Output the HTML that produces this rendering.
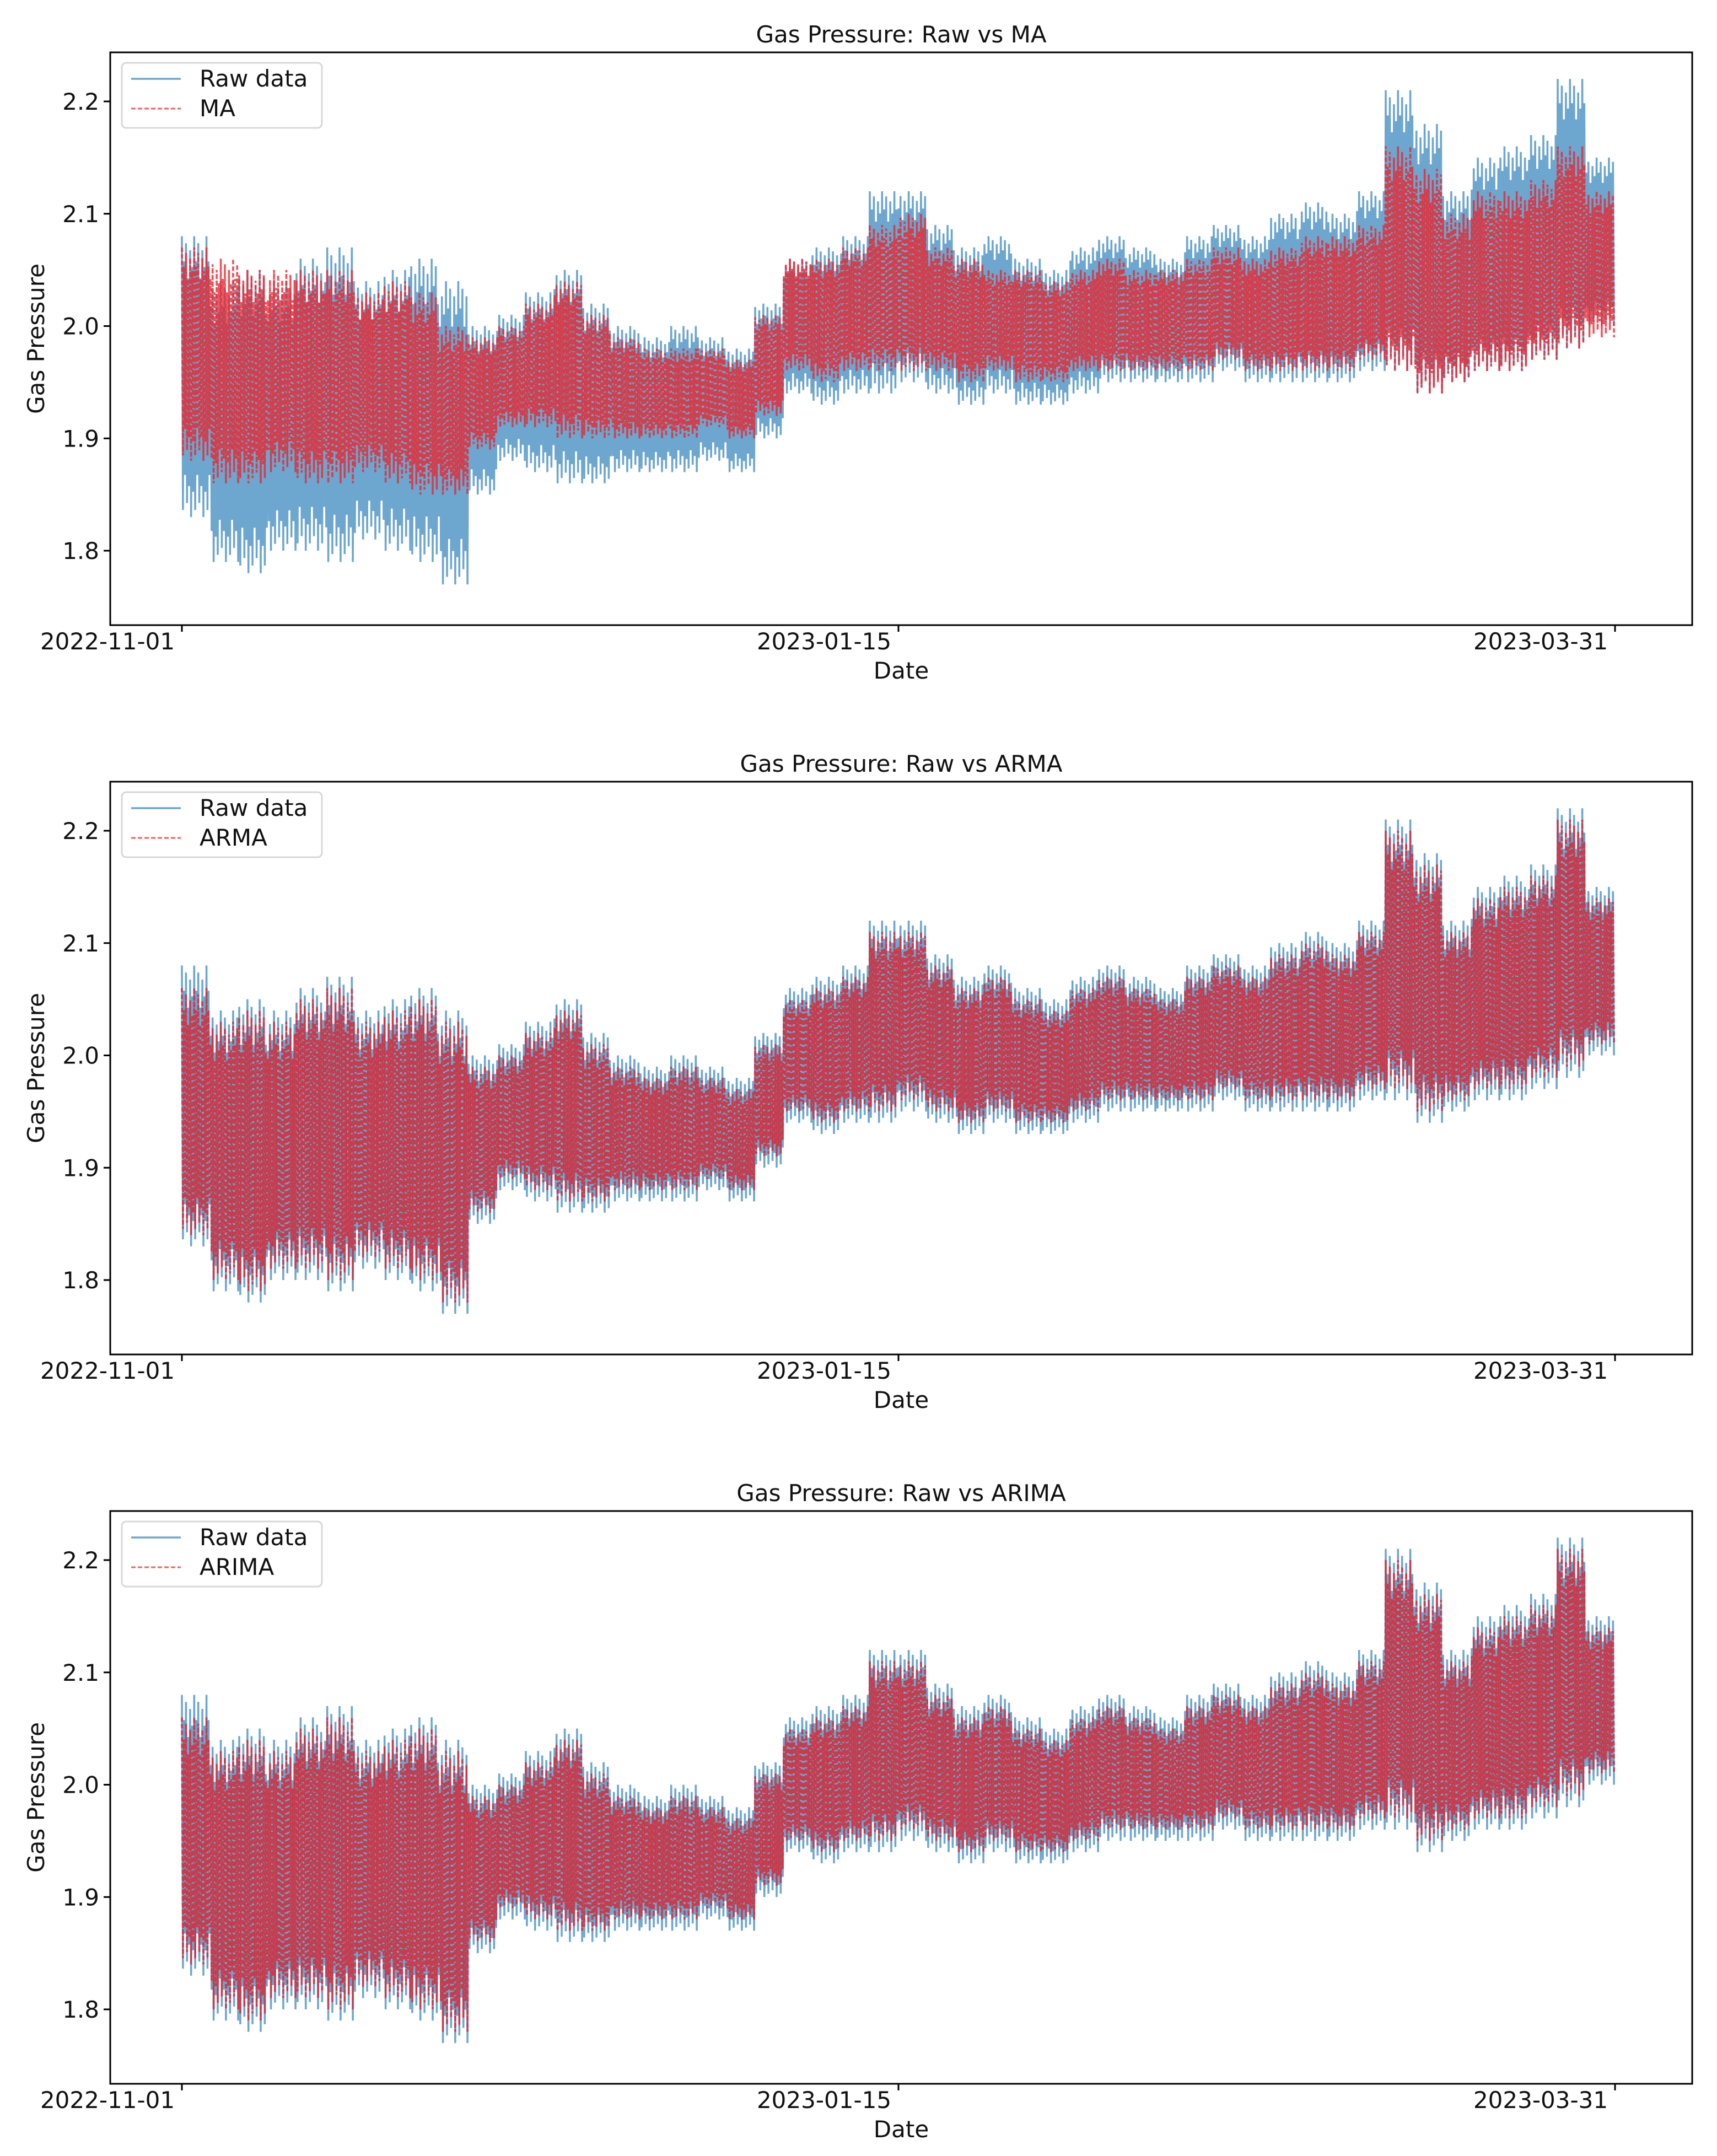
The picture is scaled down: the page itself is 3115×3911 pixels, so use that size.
<!DOCTYPE html>
<html><head><meta charset="utf-8"><style>
html,body{margin:0;padding:0;background:#fff;}
svg text{font-family:"DejaVu Sans","Liberation Sans",sans-serif;fill:#111;}
</style></head><body>
<svg id="chart" width="3115" height="3906" xmlns="http://www.w3.org/2000/svg"></svg>
<script>
const titles = ["Gas Pressure: Raw vs MA","Gas Pressure: Raw vs ARMA","Gas Pressure: Raw vs ARIMA"];
const modelNames = ["MA","ARMA","ARIMA"];
const yTicks = [1.8,1.9,2.0,2.1,2.2];
const xTickDays = [0,75,150];
const xTickLabels = ["2022-11-01","2023-01-15","2023-03-31"];
const binDays = 3;
const rawHi = [2.08,2.04,2.05,2.04,2.06,2.07,2.04,2.05,2.06,2.04,2.00,2.01,2.03,2.05,2.02,2.00,1.99,2.00,1.99,1.98,2.02,2.06,2.07,2.08,2.12,2.12,2.09,2.07,2.08,2.06,2.05,2.07,2.08,2.07,2.06,2.08,2.09,2.08,2.10,2.11,2.10,2.12,2.21,2.18,2.12,2.15,2.16,2.17,2.22,2.15];
const rawLo = [1.83,1.79,1.78,1.80,1.80,1.79,1.81,1.80,1.79,1.77,1.85,1.88,1.87,1.86,1.86,1.87,1.87,1.87,1.88,1.87,1.90,1.94,1.93,1.94,1.94,1.95,1.94,1.93,1.94,1.93,1.93,1.94,1.95,1.95,1.95,1.95,1.96,1.95,1.95,1.95,1.95,1.96,1.96,1.94,1.95,1.96,1.96,1.97,1.98,2.00];
const maHi = [2.07,2.06,2.05,2.05,2.05,2.05,2.03,2.04,2.03,2.00,1.99,2.00,2.02,2.04,2.01,1.99,1.98,1.98,1.98,1.97,2.01,2.06,2.06,2.07,2.09,2.10,2.07,2.06,2.05,2.05,2.04,2.05,2.06,2.05,2.05,2.06,2.07,2.06,2.07,2.08,2.08,2.09,2.16,2.14,2.10,2.12,2.12,2.13,2.16,2.12];
const maLo = [1.88,1.86,1.86,1.87,1.86,1.86,1.87,1.86,1.85,1.85,1.89,1.91,1.91,1.90,1.90,1.90,1.90,1.90,1.91,1.90,1.92,1.96,1.95,1.96,1.96,1.96,1.96,1.95,1.96,1.95,1.95,1.96,1.96,1.96,1.96,1.96,1.97,1.96,1.96,1.96,1.96,1.97,1.96,1.94,1.95,1.96,1.96,1.97,1.98,1.99];
const armaHi = [2.06,2.03,2.04,2.03,2.05,2.06,2.03,2.04,2.05,2.03,1.99,2.00,2.02,2.04,2.01,1.99,1.98,1.99,1.98,1.97,2.01,2.05,2.06,2.07,2.11,2.11,2.08,2.06,2.07,2.05,2.04,2.06,2.07,2.06,2.05,2.07,2.08,2.07,2.09,2.10,2.09,2.11,2.20,2.17,2.11,2.14,2.15,2.16,2.21,2.14];
const armaLo = [1.84,1.80,1.79,1.81,1.81,1.80,1.82,1.81,1.80,1.78,1.86,1.89,1.88,1.87,1.87,1.88,1.88,1.88,1.89,1.88,1.91,1.95,1.94,1.95,1.95,1.96,1.95,1.94,1.95,1.94,1.94,1.95,1.96,1.96,1.96,1.96,1.97,1.96,1.96,1.96,1.96,1.97,1.97,1.95,1.96,1.97,1.97,1.98,1.99,2.01];
const arimaHi = [2.06,2.03,2.04,2.03,2.05,2.06,2.03,2.04,2.05,2.03,1.99,2.00,2.02,2.04,2.01,1.99,1.98,1.99,1.98,1.97,2.01,2.05,2.06,2.07,2.11,2.11,2.08,2.06,2.07,2.05,2.04,2.06,2.07,2.06,2.05,2.07,2.08,2.07,2.09,2.10,2.09,2.11,2.20,2.17,2.11,2.14,2.15,2.16,2.21,2.14];
const arimaLo = [1.84,1.80,1.79,1.81,1.81,1.80,1.82,1.81,1.80,1.78,1.86,1.89,1.88,1.87,1.87,1.88,1.88,1.88,1.89,1.88,1.91,1.95,1.94,1.95,1.95,1.96,1.95,1.94,1.95,1.94,1.94,1.95,1.96,1.96,1.96,1.96,1.97,1.96,1.96,1.96,1.96,1.97,1.97,1.95,1.96,1.97,1.97,1.98,1.99,2.01];

const svg = document.getElementById('chart');
const NS = 'http://www.w3.org/2000/svg';
function mk(tag, attrs, parent){const e=document.createElementNS(NS,tag);for(const k in attrs)e.setAttribute(k,attrs[k]);(parent||svg).appendChild(e);return e;}
const L=200,R=3070,H=1039;
const panelTops=[95,1418,2741];
const modelHi=[maHi,armaHi,arimaHi], modelLo=[maLo,armaLo,arimaLo];
const depth=[1,0.82,0.95,0.7,0.9,0.78];
function xs(d){return 330+d*(1630-330)/75;}
function zig(hi,lo,ys){
  let pts=[];const K=14;
  for(let b=0;b<hi.length;b++){
    const mid=(hi[b]+lo[b])/2, amp=(hi[b]-lo[b])/2;
    for(let k=0;k<K;k++){
      const d0=b*binDays+k*binDays/K;
      const f=depth[(b+k)%depth.length], g=depth[(b*3+k+2)%depth.length];
      pts.push(xs(d0).toFixed(1)+','+ys(mid+amp*f).toFixed(1));
      pts.push(xs(d0+binDays/K/2).toFixed(1)+','+ys(mid-amp*g).toFixed(1));
    }
  }
  return pts.join(' ');
}
panelTops.forEach((T,i)=>{
  const g=mk('g',{});
  
  
  const ys=v=>T+89+(2.2-v)*2037.5;
  const t=mk('text',{x:(L+R)/2,y:T-18,'font-size':42,'text-anchor':'middle'},g);t.textContent=titles[i];
  
  const raw=mk('polyline',{points:zig(rawHi,rawLo,ys),fill:'none',stroke:'#1f77b4','stroke-width':3.5,'stroke-opacity':0.65},g);
  
  const mod=mk('polyline',{points:zig(modelHi[i],modelLo[i],ys),fill:'none',stroke:i==0?'#e8262e':'#d9232f','stroke-width':3.5,'stroke-opacity':0.8,'stroke-dasharray':'8,4'},g);
  
  const ax=mk('rect',{x:L,y:T,width:R-L,height:H,fill:'none',stroke:'#000','stroke-width':3},g);
  
  yTicks.forEach(v=>{
    const y=ys(v);
    const tk=mk('line',{x1:L-12,x2:L,y1:y,y2:y,stroke:'#000','stroke-width':3},g);
    
    const lb=mk('text',{x:L-20,y:y+15,'font-size':42,'text-anchor':'end'},g);lb.textContent=v.toFixed(1);
    
  });
  xTickDays.forEach((d,j)=>{
    const x=xs(d);
    const tk=mk('line',{x1:x,x2:x,y1:T+H,y2:T+H+12,stroke:'#000','stroke-width':3},g);
    
    const lb=mk('text',{x:x-135,y:T+H+44,'font-size':42,'text-anchor':'middle'},g);lb.textContent=xTickLabels[j];
    
  });
  const xl=mk('text',{x:(L+R)/2,y:T+H+97,'font-size':42,'text-anchor':'middle'},g);xl.textContent='Date';
  
  const cy=T+H/2;
  const yl=mk('text',{x:80,y:cy,'font-size':42,'text-anchor':'middle',transform:'rotate(-90 80 '+cy+')'},g);yl.textContent='Gas Pressure';
  
  const lg=mk('g',{},g);
  
  mk('rect',{x:221,y:T+19,width:363,height:118,rx:8,fill:'#fff','fill-opacity':0.85,stroke:'#d8d8d8','stroke-width':3},lg);
  mk('line',{x1:238,x2:328,y1:T+48,y2:T+48,stroke:'#1f77b4','stroke-width':3.5,'stroke-opacity':0.65},lg);
  mk('line',{x1:238,x2:328,y1:T+102,y2:T+102,stroke:'#f03a3a','stroke-width':3,'stroke-opacity':0.8,'stroke-dasharray':'8,4'},lg);
  const e1=mk('text',{x:362,y:T+62,'font-size':42},lg);e1.textContent='Raw data';
  
  const e2=mk('text',{x:362,y:T+116,'font-size':42},lg);e2.textContent=modelNames[i];
  
});
</script>
</body></html>
